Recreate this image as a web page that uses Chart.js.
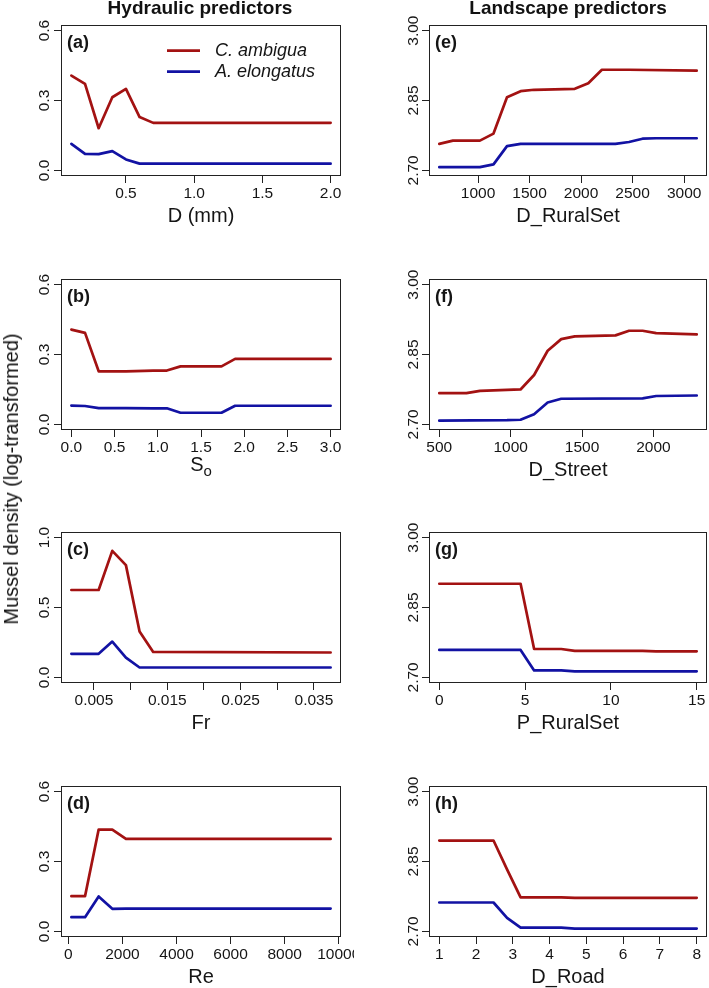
<!DOCTYPE html>
<html><head><meta charset="utf-8">
<script src="https://cdn.jsdelivr.net/npm/chart.js@4/dist/chart.umd.min.js"></script>
<style>
html,body{margin:0;padding:0;background:#fff;width:709px;height:988px;overflow:hidden;position:relative;font-family:'Liberation Sans',Arial,Helvetica,sans-serif;}
canvas{position:absolute;}
.ct{position:absolute;top:-2px;font-weight:bold;font-size:19px;line-height:19px;transform:translateX(-50%);white-space:nowrap;color:#111;z-index:2;}
#ylab{position:absolute;left:11px;top:479px;font-size:20px;line-height:20px;white-space:nowrap;transform:translate(-50%,-50%) rotate(-90deg);color:#111;z-index:2;}
</style></head><body>
<div class="ct" style="left:200px">Hydraulic predictors</div>
<div class="ct" style="left:568px">Landscape predictors</div>
<div id="ylab">Mussel density (log-transformed)</div>
<script>
// ---------- data ----------
const seriesNames = ['C. ambigua', 'A. elongatus'];

// (a) D (mm)
const aX    = [0.1, 0.2, 0.3, 0.4, 0.5, 0.6, 0.7, 2.0];
const aRed  = [0.407, 0.371, 0.181, 0.314, 0.350, 0.229, 0.204, 0.204];
const aBlue = [0.114, 0.071, 0.070, 0.083, 0.047, 0.029, 0.029, 0.029];
const aXTicks = [0.5, 1.0, 1.5, 2.0];
const aXTickLabels = ['0.5', '1.0', '1.5', '2.0'];

// (b) So
const bX    = [0, 0.158, 0.316, 0.632, 0.947, 1.105, 1.263, 1.737, 1.895, 3.0];
const bRed  = [0.407, 0.393, 0.228, 0.228, 0.231, 0.231, 0.249, 0.249, 0.281, 0.281];
const bBlue = [0.081, 0.079, 0.070, 0.070, 0.069, 0.069, 0.050, 0.050, 0.080, 0.080];
const bXTicks = [0, 0.5, 1.0, 1.5, 2.0, 2.5, 3.0];
const bXTickLabels = ['0.0', '0.5', '1.0', '1.5', '2.0', '2.5', '3.0'];

// (c) Fr
const cX    = [0.00192, 0.00378, 0.00564, 0.0075, 0.00936, 0.01122, 0.01308, 0.03728];
const cRed  = [0.625, 0.625, 0.625, 0.905, 0.803, 0.328, 0.182, 0.178];
const cBlue = [0.169, 0.169, 0.169, 0.256, 0.142, 0.071, 0.071, 0.071];
const cXTicks = [0.005, 0.010, 0.015, 0.020, 0.025, 0.030, 0.035];
const cXTickLabels = ['0.005', '', '0.015', '', '0.025', '', '0.035'];

// (d) Re
const dX    = [111, 616, 1120, 1625, 2130, 9700];
const dRed  = [0.151, 0.151, 0.437, 0.437, 0.397, 0.397];
const dBlue = [0.061, 0.061, 0.150, 0.097, 0.098, 0.098];
const dXTicks = [0, 2000, 4000, 6000, 8000, 10000];
const dXTickLabels = ['0', '2000', '4000', '6000', '8000', '10000'];

// (e) D_RuralSet
const eXRed = [624, 756, 1018, 1150, 1281, 1413, 1544, 1939, 2070, 2202, 2465, 3122];
const eRed  = [2.757, 2.764, 2.764, 2.779, 2.857, 2.870, 2.873, 2.875, 2.887, 2.916, 2.916, 2.914];
const eXBlue = [624, 1018, 1150, 1281, 1413, 2333, 2465, 2596, 2728, 3122];
const eBlue  = [2.707, 2.707, 2.713, 2.752, 2.757, 2.757, 2.761, 2.768, 2.769, 2.769];
const eXTicks = [1000, 1500, 2000, 2500, 3000];
const eXTickLabels = ['1000', '1500', '2000', '2500', '3000'];

// (f) D_Street
const fXRed = [500, 690, 785, 880, 1069, 1164, 1259, 1354, 1449, 1734, 1829, 1924, 2019, 2303];
const fRed  = [2.767, 2.767, 2.772, 2.773, 2.775, 2.806, 2.858, 2.883, 2.889, 2.891, 2.901, 2.901, 2.896, 2.893];
const fXBlue = [500, 975, 1069, 1164, 1259, 1354, 1924, 2019, 2303];
const fBlue  = [2.708, 2.709, 2.710, 2.722, 2.747, 2.755, 2.756, 2.761, 2.762];
const fXTicks = [500, 1000, 1500, 2000];
const fXTickLabels = ['500', '1000', '1500', '2000'];

// (g) P_RuralSet
const gX    = [0, 4.737, 5.526, 7.105, 7.895, 11.842, 12.632, 15];
const gRed  = [2.901, 2.901, 2.761, 2.761, 2.757, 2.757, 2.756, 2.756];
const gBlue = [2.759, 2.759, 2.715, 2.715, 2.713, 2.713, 2.713, 2.713];
const gXTicks = [0, 5, 10, 15];
const gXTickLabels = ['0', '5', '10', '15'];

// (h) D_Road
const hX    = [1, 2.474, 2.842, 3.211, 4.316, 4.684, 8];
const hRed  = [2.895, 2.895, 2.833, 2.773, 2.773, 2.772, 2.772];
const hBlue = [2.762, 2.762, 2.729, 2.708, 2.708, 2.706, 2.706];
const hXTicks = [1, 2, 3, 4, 5, 6, 7, 8];
const hXTickLabels = ['1', '2', '3', '4', '5', '6', '7', '8'];

// y axes
const hydYTicks = [0, 0.3, 0.6];
const hydYTickLabels = ['0.0', '0.3', '0.6'];
const frYTicks = [0, 0.5, 1.0];
const frYTickLabels = ['0.0', '0.5', '1.0'];
const landYTicks = [2.70, 2.85, 3.00];
const landYTickLabels = ['2.70', '2.85', '3.00'];

// ---------- drawing ----------
const FONT = "'Liberation Sans', Arial, Helvetica, sans-serif";
const RED = '#a31212', BLUE = '#1212a3';
const INK = '#151515';
Chart.defaults.font.family = FONT;
Chart.defaults.color = INK;

const annotPlugin = {
  id: 'annot',
  afterDraw(chart, args, o) {
    const {ctx, chartArea: a} = chart;
    ctx.save();
    ctx.strokeStyle = '#222'; ctx.lineWidth = 1;
    ctx.strokeRect(Math.round(a.left) + 0.5, Math.round(a.top) + 0.5,
                   Math.round(a.right - a.left) - 1, Math.round(a.bottom - a.top) - 1);
    ctx.fillStyle = INK;
    ctx.font = 'bold 18px ' + FONT;
    ctx.textAlign = 'left'; ctx.textBaseline = 'middle';
    ctx.fillText(o.letter, a.left + 6, a.top + 18);
    if (o.legend) {
      chart.data.datasets.forEach((ds, i) => {
        const y = a.top + 25.7 + i * 21;
        ctx.strokeStyle = ds.borderColor; ctx.lineWidth = ds.borderWidth; ctx.lineCap = 'butt';
        ctx.beginPath(); ctx.moveTo(a.left + 106, y); ctx.lineTo(a.left + 139, y); ctx.stroke();
        ctx.fillStyle = INK; ctx.font = 'italic 18px ' + FONT;
        ctx.textAlign = 'left'; ctx.textBaseline = 'middle';
        ctx.fillText(ds.label, a.left + 154, y);
      });
    }
    if (o.subTitle) {
      const cx = (a.left + a.right) / 2;
      ctx.font = '20px ' + FONT;
      const w1 = ctx.measureText(o.subTitle[0]).width;
      ctx.font = '15px ' + FONT;
      const w2 = ctx.measureText(o.subTitle[1]).width;
      const x0 = cx - (w1 + w2) / 2;
      ctx.fillStyle = INK; ctx.textAlign = 'left'; ctx.textBaseline = 'middle';
      ctx.font = '20px ' + FONT;
      ctx.fillText(o.subTitle[0], x0, a.bottom + 35);
      ctx.font = '15px ' + FONT;
      ctx.fillText(o.subTitle[1], x0 + w1, a.bottom + 42);
    }
    ctx.restore();
  }
};

function makePanel(p) {
  const cv = document.createElement('canvas');
  cv.width = p.w; cv.height = 231;
  cv.style.left = p.left + 'px'; cv.style.top = p.top + 'px';
  cv.style.width = p.w + 'px'; cv.style.height = '231px';
  document.body.appendChild(cv);
  const mk = (xs, ys) => xs.map((x, i) => ({x: x, y: ys[i]}));
  new Chart(cv.getContext('2d'), {
    type: 'line',
    data: {
      datasets: [
        {label: seriesNames[0], data: mk(p.xr, p.red), borderColor: RED, borderWidth: 2.7,
         pointRadius: 0, tension: 0, borderJoinStyle: 'round', borderCapStyle: 'round', fill: false},
        {label: seriesNames[1], data: mk(p.xb, p.blue), borderColor: BLUE, borderWidth: 2.7,
         pointRadius: 0, tension: 0, borderJoinStyle: 'round', borderCapStyle: 'round', fill: false}
      ]
    },
    options: {
      responsive: false, animation: false, events: [],
      layout: {padding: {left: 0, right: p.padR, top: 25, bottom: 0}},
      plugins: {legend: {display: false}, tooltip: {enabled: false},
                annot: {letter: p.letter, legend: !!p.legend, subTitle: p.subTitle || null}},
      scales: {
        x: {
          type: 'linear', bounds: 'data', min: p.xMin, max: p.xMax,
          afterBuildTicks: s => { s.ticks = p.xTicks.map(v => ({value: v})); },
          afterFit: s => { s.height = 55; s.paddingLeft = 0; s.paddingRight = 0; },
          ticks: {autoSkip: false, maxRotation: 0, minRotation: 0, padding: 1,
                  font: {size: 15.5}, color: INK,
                  callback: (v, i) => p.xTickLabels[i]},
          grid: {display: true, drawOnChartArea: false, drawTicks: true, tickLength: 7,
                 color: '#222', tickColor: '#222', lineWidth: 1},
          border: {display: false},
          title: {display: !!p.xTitle, text: p.xTitle || '', font: {size: 20}, color: INK,
                  padding: {top: 0, bottom: 2.5}}
        },
        y: {
          type: 'linear', min: p.yMin, max: p.yMax,
          afterBuildTicks: s => { s.ticks = p.yTicks.map(v => ({value: v})); },
          afterFit: s => { s.width = p.yW; s.paddingTop = 0; s.paddingBottom = 0; },
          ticks: {autoSkip: false, minRotation: 90, maxRotation: 90, crossAlign: 'center',
                  padding: p.yPad, font: {size: 15.5}, color: INK,
                  callback: (v, i) => p.yTickLabels[i]},
          grid: {display: true, drawOnChartArea: false, drawTicks: true, tickLength: 7,
                 color: '#222', tickColor: '#222', lineWidth: 1},
          border: {display: false}
        }
      }
    },
    plugins: [annotPlugin]
  });
}

const rowTops = [0, 254, 507, 761];
const L = {left: 0, w: 354, yW: 61, padR: 13, yPad: -1};
const R = {left: 354, w: 355, yW: 75, padR: 2, yPad: -6.5};
const hydY = {yMin: -0.024, yMax: 0.624, yTicks: hydYTicks, yTickLabels: hydYTickLabels};
const landY = {yMin: 2.688, yMax: 3.012, yTicks: landYTicks, yTickLabels: landYTickLabels};

const panels = [
  Object.assign({}, L, hydY, {top: rowTops[0], letter: '(a)', legend: true, xTitle: 'D (mm)',
    xr: aX, xb: aX, red: aRed, blue: aBlue, xMin: 0.024, xMax: 2.076, xTicks: aXTicks, xTickLabels: aXTickLabels}),
  Object.assign({}, L, hydY, {top: rowTops[1], letter: '(b)', subTitle: ['S', 'o'],
    xr: bX, xb: bX, red: bRed, blue: bBlue, xMin: -0.12, xMax: 3.12, xTicks: bXTicks, xTickLabels: bXTickLabels}),
  Object.assign({}, L, {yMin: -0.04, yMax: 1.04, yTicks: frYTicks, yTickLabels: frYTickLabels},
    {top: rowTops[2], letter: '(c)', xTitle: 'Fr',
    xr: cX, xb: cX, red: cRed, blue: cBlue, xMin: 0.000506, xMax: 0.038694, xTicks: cXTicks, xTickLabels: cXTickLabels}),
  Object.assign({}, L, hydY, {top: rowTops[3], letter: '(d)', xTitle: 'Re',
    xr: dX, xb: dX, red: dRed, blue: dBlue, xMin: -272.6, xMax: 10083.6, xTicks: dXTicks, xTickLabels: dXTickLabels}),
  Object.assign({}, R, landY, {top: rowTops[0], letter: '(e)', xTitle: 'D_RuralSet',
    xr: eXRed, xb: eXBlue, red: eRed, blue: eBlue, xMin: 524, xMax: 3222, xTicks: eXTicks, xTickLabels: eXTickLabels}),
  Object.assign({}, R, landY, {top: rowTops[1], letter: '(f)', xTitle: 'D_Street',
    xr: fXRed, xb: fXBlue, red: fRed, blue: fBlue, xMin: 428, xMax: 2375, xTicks: fXTicks, xTickLabels: fXTickLabels}),
  Object.assign({}, R, landY, {top: rowTops[2], letter: '(g)', xTitle: 'P_RuralSet',
    xr: gX, xb: gX, red: gRed, blue: gBlue, xMin: -0.6, xMax: 15.6, xTicks: gXTicks, xTickLabels: gXTickLabels}),
  Object.assign({}, R, landY, {top: rowTops[3], letter: '(h)', xTitle: 'D_Road',
    xr: hX, xb: hX, red: hRed, blue: hBlue, xMin: 0.72, xMax: 8.28, xTicks: hXTicks, xTickLabels: hXTickLabels})
];
panels.forEach(makePanel);
</script>
</body></html>
